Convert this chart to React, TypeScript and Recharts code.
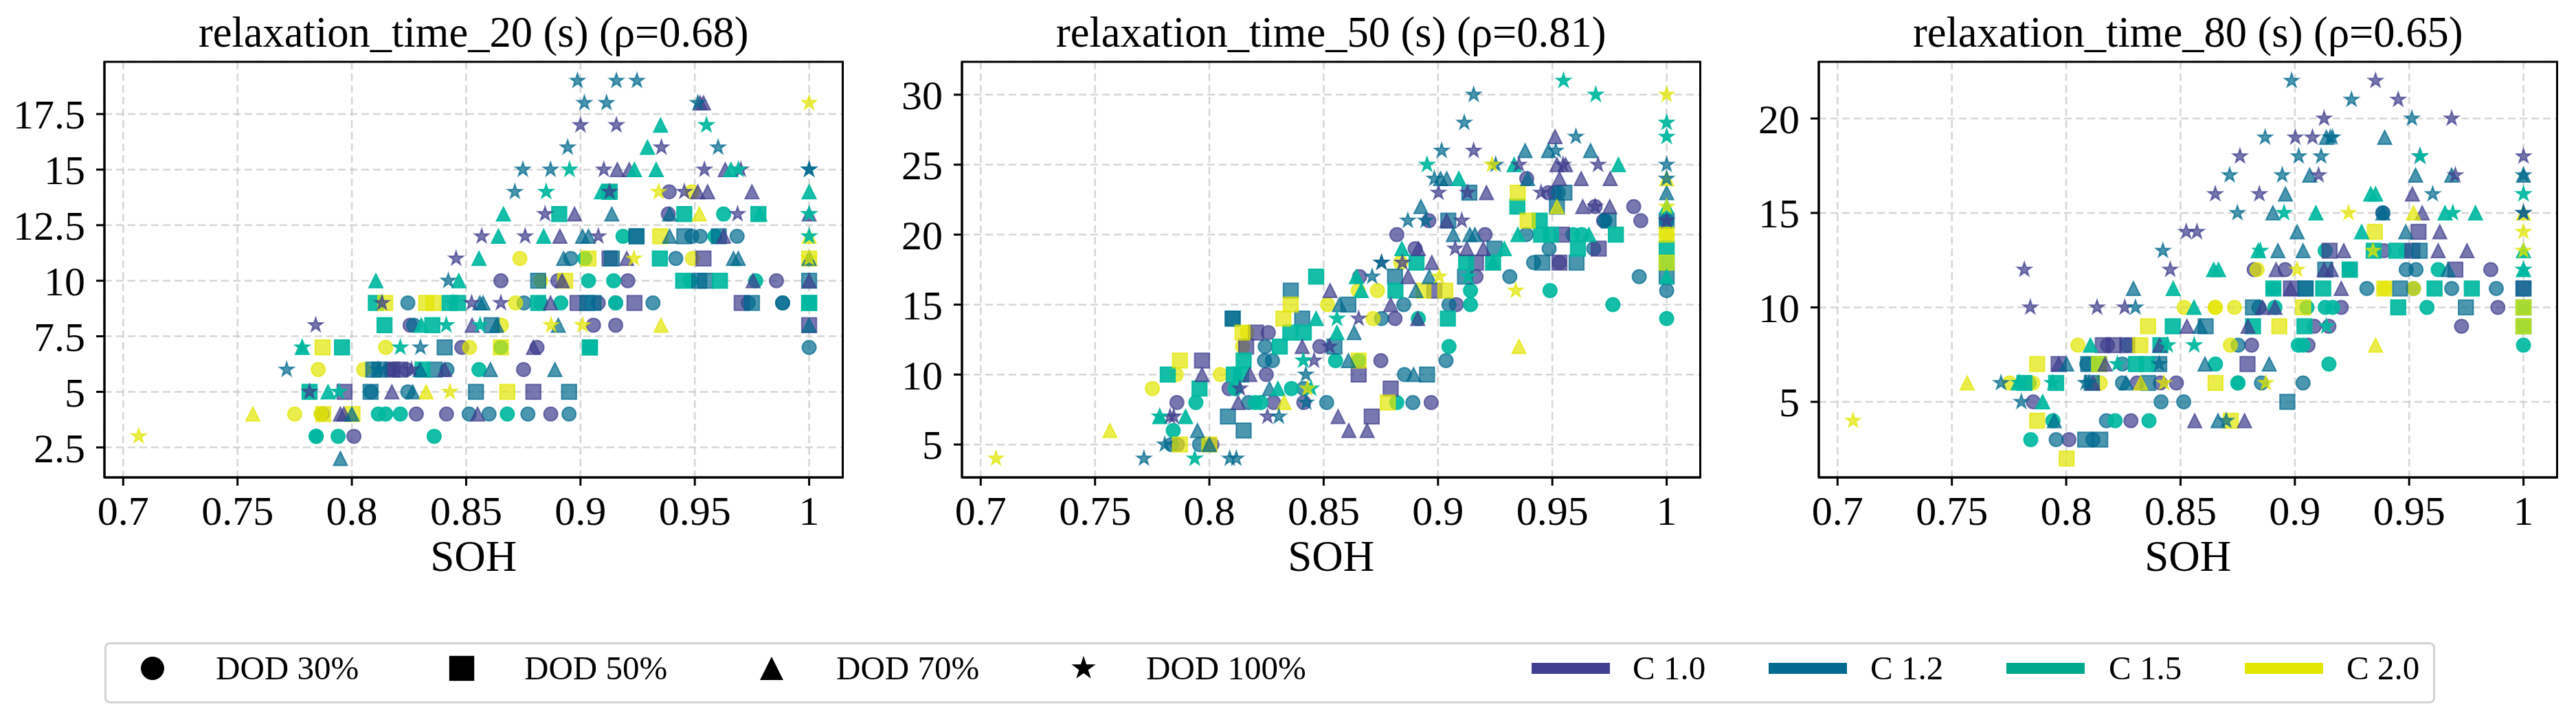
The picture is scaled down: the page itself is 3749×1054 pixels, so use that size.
import React from "react";
import {
  ScatterChart,
  Scatter,
  XAxis,
  YAxis,
  CartesianGrid,
  ReferenceArea,
} from "recharts";

type Pt = [number, number];

// values: [SOH, relaxation time]
// relaxation_time_20
const t20_d30_c10: Pt[] = [[0.8009,3],[0.787,4],[0.8282,4],[0.8414,4],[0.8164,6],[0.8178,6],[0.8239,6],[0.8481,7],[0.8255,8],[0.9388,14],[0.9384,13],[0.8652,10],[0.8901,10],[0.9207,10],[0.9857,10],[0.9078,9],[0.9154,9],[0.9057,8],[0.9154,8],[0.881,7],[0.8751,6],[0.887,4]];
const t20_d30_c12: Pt[] = [[0.8513,4],[0.8416,6],[0.8271,8],[0.8245,9],[0.8245,5],[0.8083,5],[0.8958,11],[0.9417,11],[0.8753,9],[0.8825,9],[0.9317,9],[0.9734,9],[0.9884,9],[0.9884,9],[0.9487,12],[0.9524,12],[0.9685,12],[1,7],[0.86,4],[0.877,4],[0.895,4]];
const t20_d30_c15: Pt[] = [[0.7844,3],[0.7844,3],[0.794,3],[0.836,3],[0.8116,4],[0.8148,4],[0.8212,4],[0.8556,6],[0.9035,10],[0.9145,10],[0.9481,10],[0.9766,10],[0.8914,9],[0.9154,9],[0.9019,11],[0.9186,12],[0.9588,12],[0.9626,13],[0.8652,7],[0.9041,7],[0.868,4]];
const t20_d30_c20: Pt[] = [[0.775,4],[0.7865,4],[0.7853,6],[0.8052,6],[0.8148,7],[0.8515,7],[0.8735,11],[0.949,11],[0.8826,10],[0.8716,9],[0.8654,8],[0.9487,14]];
const t20_d50_c10: Pt[] = [[0.7968,5],[0.8178,6],[0.8212,6],[0.9127,11],[0.9538,11],[0.8987,9],[0.9236,9],[0.9705,9],[0.8794,5],[1,8]];
const t20_d50_c12: Pt[] = [[0.8082,5],[0.8543,5],[0.8094,6],[0.812,6],[0.8363,6],[0.8406,7],[0.9127,14],[0.9245,12],[0.9245,12],[0.9454,12],[0.9605,12],[0.9137,11],[0.8815,10],[0.9519,10],[0.9546,10],[1,10],[0.903,9],[0.9057,9],[0.975,9],[0.8611,8],[0.895,5]];
const t20_d50_c15: Pt[] = [[0.7815,5],[0.8309,6],[0.7957,7],[0.8143,8],[0.8352,8],[0.8105,9],[0.8427,9],[0.8464,9],[0.9127,14],[0.8907,13],[0.9454,13],[0.9778,13],[0.9347,11],[0.9449,10],[0.961,10],[0.8815,9],[1,9],[1,9],[0.9041,7],[0.9041,7]];
const t20_d50_c20: Pt[] = [[0.7875,4],[0.8003,4],[0.7872,7],[0.8146,9],[0.8325,9],[0.8357,9],[0.9349,12],[0.9035,11],[1,11],[0.8933,10],[0.8652,7],[0.868,5]];
const t20_d70_c10: Pt[] = [[0.795,4],[0.7965,4],[0.855,4],[0.8175,5],[0.8406,6],[0.8526,8],[0.9523,18],[0.9538,18],[0.9161,15],[0.9213,15],[0.9633,15],[0.9513,14],[0.9556,14],[0.975,14],[0.8974,13],[0.891,12],[0.9626,12],[0.9202,11],[0.892,10],[0.9755,10],[1,10],[0.8869,9],[0.8794,7],[1,13]];
const t20_d70_c12: Pt[] = [[0.795,2],[0.8,4],[0.8266,5],[0.8298,6],[0.856,9],[0.9009,12],[0.9035,12],[0.939,12],[0.9137,13],[0.939,13],[0.8926,11],[0.9669,11],[0.969,11],[1,11],[0.8574,9],[0.8633,8],[0.8903,8],[1,8],[0.8606,6],[0.8888,6]];
const t20_d70_c15: Pt[] = [[0.8304,8],[0.8105,10],[0.8468,10],[0.7783,7],[0.7896,5],[0.8556,11],[0.935,17],[0.9293,16],[0.9236,15],[0.9331,15],[0.9658,15],[0.9092,14],[1,14],[0.8663,13],[0.9784,13],[0.8641,12],[0.8839,12]];
const t20_d70_c20: Pt[] = [[0.7567,4],[0.8325,5],[0.952,13],[0.9352,8],[1,12]];
const t20_d100_c10: Pt[] = [[0.7815,5],[0.8261,6],[0.7842,8],[0.8132,9],[0.8524,9],[0.8456,11],[0.8568,12],[0.9,17],[0.9157,17],[0.9354,16],[0.9102,15],[0.9542,15],[0.9701,15],[0.9127,14],[0.9454,14],[0.8845,13],[0.9687,13],[0.8758,12],[0.9078,12],[0.8652,9]];
const t20_d100_c12: Pt[] = [[0.7715,6],[0.8116,6],[0.83,7],[0.8422,10],[0.8987,19],[0.9157,19],[0.9247,19],[0.9017,18],[0.9114,18],[0.9513,18],[0.8944,16],[0.9602,16],[0.8748,15],[0.8869,15],[1,15],[1,15],[0.8713,14]];
const t20_d100_c15: Pt[] = [[0.7783,7],[0.8212,7],[0.8413,8],[0.8561,8],[0.8443,9],[0.7944,5],[0.9551,17],[0.8952,15],[0.969,15],[0.885,14],[1,13],[1,12]];
const t20_d100_c20: Pt[] = [[0.7068,3],[0.8429,5],[1,18],[0.9342,14],[0.9234,11],[1,11],[0.8872,8],[0.9009,8]];

// relaxation_time_50
const t50_d30_c10: Pt[] = [[0.786,5],[0.8011,5],[0.7858,8],[0.8281,8],[0.8413,8],[0.8086,9],[0.8249,10],[0.8483,12],[0.8258,13],[0.9388,24],[0.9483,23],[0.951,23],[0.9687,22],[0.9856,22],[0.896,21],[0.9724,21],[0.9887,21],[0.882,20],[0.9206,20],[0.89,19],[0.9531,18],[0.8657,17],[0.9166,17],[0.908,15],[0.8812,14],[0.875,11],[0.897,8]];
const t50_d30_c12: Pt[] = [[0.7834,5],[0.7957,5],[0.8172,8],[0.8513,8],[0.8413,9],[0.8241,11],[0.8276,11],[0.8244,12],[0.9526,23],[0.973,21],[1,21],[0.9386,20],[0.9486,19],[0.9681,19],[0.9418,18],[0.9314,17],[0.988,17],[1,16],[0.885,15],[0.9048,15],[0.8753,14],[0.9035,11],[0.8853,10],[0.889,8]];
const t50_d30_c15: Pt[] = [[0.7842,6],[0.7941,8],[0.8201,8],[0.8225,8],[0.8113,9],[0.8359,9],[0.8552,11],[0.959,20],[0.9628,20],[0.9142,16],[0.949,16],[0.9142,15],[0.9765,15],[0.8914,14],[1,14],[0.9048,12],[0.8653,11],[0.882,8]];
const t50_d30_c20: Pt[] = [[0.7751,9],[0.7855,10],[0.8048,10],[0.8145,12],[0.8165,13],[0.8517,15],[1,20],[0.8837,18],[0.8651,16],[0.8735,16],[0.8716,14]];
const t50_d50_c10: Pt[] = [[0.7968,11],[0.8161,12],[0.8204,13],[0.9542,20],[0.9703,19],[0.9166,18],[0.9531,18],[0.8984,16],[0.8653,10],[0.8793,9],[0.871,7]];
const t50_d50_c12: Pt[] = [[0.815,6],[0.8081,7],[0.8547,12],[0.8102,14],[0.8102,14],[0.8406,14],[0.8356,16],[0.9137,23],[0.9553,23],[0.952,22],[0.9045,21],[0.9746,21],[1,21],[0.9247,19],[0.9456,18],[0.9606,18],[0.8812,17],[0.9118,17],[1,17],[0.8608,15],[0.8952,10]];
const t50_d50_c15: Pt[] = [[0.7957,9],[0.7818,10],[0.8107,10],[0.8139,10],[0.815,11],[0.8308,12],[0.8354,13],[0.8413,13],[0.8467,17],[0.9347,22],[0.9445,21],[0.9451,20],[0.9494,20],[0.9778,20],[0.9612,19],[1,19],[0.8906,18],[0.9123,18],[0.9241,18],[1,18],[0.8814,16],[0.9043,14]];
const t50_d50_c20: Pt[] = [[0.7871,5],[0.8,5],[0.7871,11],[0.8145,13],[0.8324,14],[0.8356,15],[0.9349,23],[0.9392,21],[1,20],[1,18],[0.8936,16],[0.9032,16],[0.8653,11],[0.878,8]];
const t50_d70_c10: Pt[] = [[0.8563,7],[0.8126,8],[0.7968,10],[0.8177,10],[0.8406,12],[0.8528,16],[0.9512,27],[0.952,25],[0.9558,25],[0.9531,24],[0.9626,24],[0.9753,24],[0.9212,23],[0.9633,22],[0.9751,22],[0.9038,21],[0.8914,19],[0.9126,19],[0.9198,19],[0.8973,18],[0.8869,17],[0.8793,15],[0.8911,14],[0.861,6],[0.869,6]];
const t50_d70_c12: Pt[] = [[0.8,5],[0.7948,6],[0.8263,9],[0.8569,15],[0.9381,26],[0.9483,26],[0.9667,26],[0.9011,24],[0.9038,24],[0.9392,24],[1,23],[0.8925,22],[0.9067,20],[0.9139,20],[0.9161,20],[0.8962,17],[0.8903,16],[0.8633,13],[0.8608,11],[0.8893,10]];
const t50_d70_c15: Pt[] = [[0.7783,7],[0.7896,7],[0.83,9],[0.8558,13],[0.8467,14],[0.9333,25],[0.9789,25],[0.9091,24],[1,22],[0.9349,20],[0.966,20],[0.8842,19],[0.929,19],[0.9241,18],[0.8643,17],[1,17],[0.8664,16]];
const t50_d70_c20: Pt[] = [[0.7565,6],[0.8327,8],[1,24],[0.952,22],[0.9354,12]];
const t50_d100_c10: Pt[] = [[0.7828,7],[0.7844,7],[0.8254,7],[0.8134,9],[0.8458,11],[0.8526,12],[0.9156,26],[0.9354,25],[0.9547,25],[0.97,25],[0.9002,23],[0.9129,23],[0.9451,23],[0.9687,22],[0.9104,21],[1,21],[0.9075,19],[0.8753,18],[0.8844,18],[0.8653,14]];
const t50_d100_c12: Pt[] = [[0.7714,4],[0.8089,4],[0.8118,4],[0.7805,5],[0.8304,7],[0.8424,8],[0.8422,10],[0.9156,30],[0.9115,28],[0.9603,27],[0.9016,26],[0.9515,26],[0.9252,25],[1,25],[0.8984,24],[1,24],[0.8868,21],[0.8946,21],[0.8753,18],[0.8712,17]];
const t50_d100_c15: Pt[] = [[0.7936,4],[0.7783,7],[0.8445,9],[0.8411,11],[0.8558,14],[0.9549,31],[0.969,30],[1,28],[1,27],[0.8952,25],[0.9132,17]];
const t50_d100_c20: Pt[] = [[0.7067,4],[0.8429,9],[1,30],[0.9236,25],[1,22],[0.9005,17],[0.934,16]];

// relaxation_time_80
const t80_d30_c10: Pt[] = [[0.8012,3],[0.8283,4],[0.7856,5],[0.831,6],[0.8412,6],[0.8482,6],[0.8181,8],[0.9385,15],[0.9391,13],[0.8822,12],[0.8958,12],[0.9857,12],[0.9203,10],[0.9888,10],[0.9085,9],[0.9149,9],[0.9729,9],[0.8811,8],[0.9058,8]];
const t80_d30_c12: Pt[] = [[0.7956,3],[0.8117,3],[0.8176,4],[0.8415,5],[0.8514,5],[0.8246,6],[0.809,7],[0.8246,7],[0.8267,8],[0.9385,15],[0.9487,12],[0.953,12],[0.9315,11],[0.9519,11],[0.9686,11],[0.9881,11],[0.8843,10],[0.8752,8],[0.8854,6],[0.9036,6]];
const t80_d30_c15: Pt[] = [[0.7845,3],[0.7942,4],[0.8214,4],[0.8362,4],[0.7838,6],[0.9133,13],[0.9487,13],[0.9627,12],[0.8906,11],[0.8913,10],[0.9053,10],[0.9133,10],[0.9165,10],[0.9578,10],[0.9015,8],[0.9036,8],[1,8],[0.8653,7],[0.9149,7],[0.8751,6],[0.8751,6]];
const t80_d30_c20: Pt[] = [[0.7752,6],[0.7854,6],[0.8149,6],[0.8051,8],[0.8516,10],[0.8835,12],[0.9391,11],[0.9519,11],[0.8652,10],[0.8652,10],[0.8736,10],[0.8718,8]];
const t80_d50_c10: Pt[] = [[0.7967,7],[0.816,8],[0.8208,8],[0.8267,8],[0.9541,14],[0.9152,13],[0.9514,13],[0.9702,12],[0.8983,11],[0.8793,7],[1,11]];
const t80_d50_c12: Pt[] = [[0.8083,3],[0.8149,3],[0.8112,6],[0.8358,6],[0.8096,7],[0.8407,7],[0.9546,13],[0.9133,12],[0.924,12],[0.9047,11],[0.9047,11],[0.946,11],[1,11],[0.8817,10],[0.9748,10],[0.861,9],[0.8967,5]];
const t80_d50_c15: Pt[] = [[0.7817,6],[0.7956,6],[0.8144,7],[0.8305,7],[0.8353,7],[0.8412,8],[0.8466,9],[0.9345,13],[0.9444,13],[0.924,12],[0.8906,11],[0.9124,11],[0.9611,11],[0.9774,11],[0.9452,10],[1,10],[0.8817,9],[0.9042,9],[1,9]];
const t80_d50_c20: Pt[] = [[0.8002,2],[0.7873,4],[0.7873,7],[0.8144,7],[0.8324,8],[0.8358,9],[0.935,14],[0.9391,11],[0.9036,10],[1,10],[0.8932,9],[1,9],[0.8653,6],[0.872,4]];
const t80_d70_c10: Pt[] = [[0.8562,4],[0.8117,6],[0.7967,7],[0.817,7],[0.8409,8],[0.8528,9],[0.9514,16],[0.9557,15],[0.9634,14],[0.9214,13],[0.9627,13],[0.9753,13],[0.8918,12],[0.9128,12],[0.916,12],[0.8981,11],[0.9203,11],[0.8859,10],[0.8913,10],[0.8795,9],[0.878,4]];
const t80_d70_c12: Pt[] = [[0.7948,4],[0.8262,6],[0.8002,7],[0.8294,11],[0.9138,19],[0.9393,19],[0.9065,17],[0.9528,17],[0.9686,17],[1,17],[0.8959,16],[0.8904,15],[0.9385,15],[0.901,14],[0.9485,14],[0.8926,13],[0.9036,13],[0.967,12],[0.8586,9],[0.8607,7],[0.8888,7],[0.8664,4]];
const t80_d70_c15: Pt[] = [[0.7897,5],[0.779,6],[0.8106,8],[0.8468,11],[0.9332,16],[0.9353,16],[0.9092,15],[0.9657,15],[0.979,15],[0.9292,14],[0.884,13],[1,13],[0.8645,12],[0.8666,12],[0.924,12],[1,12],[0.8559,10]];
const t80_d70_c20: Pt[] = [[0.7567,6],[0.8326,6],[0.9519,15],[1,15],[0.9353,8]];
const t80_d100_c10: Pt[] = [[0.7843,10],[0.8135,10],[0.8256,10],[0.7817,12],[0.8455,12],[0.8525,14],[0.9353,22],[0.9452,21],[0.9128,20],[0.9686,20],[0.9002,19],[0.9077,19],[0.876,18],[0.9546,18],[1,18],[0.9104,17],[0.9702,17],[0.8652,16],[0.8845,16],[1,15],[0.8572,14]];
const t80_d100_c12: Pt[] = [[0.7804,5],[0.7715,6],[0.8085,6],[0.81,6],[0.8407,7],[0.8303,10],[0.8423,13],[0.8986,22],[0.9248,21],[0.9512,20],[0.887,19],[0.9155,19],[0.9165,19],[0.9017,18],[0.9115,18],[0.8715,17],[0.8945,17],[1,17],[0.9603,16],[0.8749,15],[1,15],[0.87,4]];
const t80_d100_c15: Pt[] = [[0.7795,6],[0.794,6],[0.8224,7],[0.8444,8],[0.856,8],[0.9549,18],[1,16],[0.8953,15],[0.9691,15],[0.8849,13],[1,12],[0.9138,9]];
const t80_d100_c20: Pt[] = [[0.7068,4],[0.8428,6],[0.9235,15],[1,14],[0.9342,13],[1,13],[0.901,12],[0.8873,6]];

const xTicks = [0.7, 0.75, 0.8, 0.85, 0.9, 0.95, 1];
const yTicks20 = [2.5, 5, 7.5, 10, 12.5, 15, 17.5];
const yTicks50 = [5, 10, 15, 20, 25, 30];
const yTicks80 = [5, 10, 15, 20];
const xDomain: [number, number] = [0.6918, 1.0147];

const dodLabels = ["DOD 30%", "DOD 50%", "DOD 70%", "DOD 100%"];
const cLabels = ["C 1.0", "C 1.2", "C 1.5", "C 2.0"];

const shapes = ["circle", "square", "triangle", "star"];
const colors = ["#3f3f8f", "#006a8e", "#00b89f", "#e2e600"];
const fillOpacity = [0.7, 0.7, 0.92, 0.7];
const legendColors = ["#3f3f8f", "#00698f", "#00a88e", "#e2e600"];

const panels = [
  {
    title: "relaxation_time_20 (s) (ρ=0.68)",
    left: 152,
    yDomain: [1.15, 19.85],
    yTicks: yTicks20,
    series: [
      [t20_d30_c10, t20_d30_c12, t20_d30_c15, t20_d30_c20],
      [t20_d50_c10, t20_d50_c12, t20_d50_c15, t20_d50_c20],
      [t20_d70_c10, t20_d70_c12, t20_d70_c15, t20_d70_c20],
      [t20_d100_c10, t20_d100_c12, t20_d100_c15, t20_d100_c20],
    ],
  },
  {
    title: "relaxation_time_50 (s) (ρ=0.81)",
    left: 1399.5,
    yDomain: [2.65, 32.35],
    yTicks: yTicks50,
    series: [
      [t50_d30_c10, t50_d30_c12, t50_d30_c15, t50_d30_c20],
      [t50_d50_c10, t50_d50_c12, t50_d50_c15, t50_d50_c20],
      [t50_d70_c10, t50_d70_c12, t50_d70_c15, t50_d70_c20],
      [t50_d100_c10, t50_d100_c12, t50_d100_c15, t50_d100_c20],
    ],
  },
  {
    title: "relaxation_time_80 (s) (ρ=0.65)",
    left: 2647,
    yDomain: [1, 23],
    yTicks: yTicks80,
    series: [
      [t80_d30_c10, t80_d30_c12, t80_d30_c15, t80_d30_c20],
      [t80_d50_c10, t80_d50_c12, t80_d50_c15, t80_d50_c20],
      [t80_d70_c10, t80_d70_c12, t80_d70_c15, t80_d70_c20],
      [t80_d100_c10, t80_d100_c12, t80_d100_c15, t80_d100_c20],
    ],
  },
];

const serif = "'Liberation Serif', serif";
const plotWidth = 1074.5;
const plotHeight = 605;
const yAxisWidth = 148;

const starPoints = (cx: number, cy: number, r: number) => {
  const pts: string[] = [];
  for (let i = 0; i < 10; i++) {
    const rad = i % 2 === 0 ? r : r * 0.382;
    const a = (Math.PI / 5) * i - Math.PI / 2;
    pts.push(`${cx + rad * Math.cos(a)},${cy + rad * Math.sin(a)}`);
  }
  return pts.join(" ");
};

const Marker = ({ kind, cx, cy, r, ...paint }: any) => {
  if (kind === "circle") return <circle cx={cx} cy={cy} r={r} {...paint} />;
  if (kind === "square")
    return <rect x={cx - r * 1.07} y={cy - r * 1.07} width={r * 2.14} height={r * 2.14} {...paint} />;
  if (kind === "triangle")
    return <polygon points={`${cx},${cy - r} ${cx - r},${cy + r} ${cx + r},${cy + r}`} {...paint} />;
  return <polygon points={starPoints(cx, cy, r * 1.08)} {...paint} />;
};

const Panel = ({ panel }: { panel: (typeof panels)[number] }) => (
  <div style={{ position: "absolute", left: panel.left - yAxisWidth, top: 0 }}>
    <ScatterChart
      width={yAxisWidth + plotWidth + 10}
      height={90 + plotHeight + 130 + 30}
      margin={{ top: 90, right: 10, bottom: 30, left: 0 }}
    >
      <text
        x={yAxisWidth + plotWidth / 2}
        y={68}
        textAnchor="middle"
        fontFamily={serif}
        fontSize={62.5}
        fill="#000"
      >
        {panel.title}
      </text>
      <XAxis
        type="number"
        dataKey="soh"
        domain={xDomain}
        ticks={xTicks}
        interval={0}
        height={130}
        tickSize={12}
        tickMargin={14}
        tick={{ fontFamily: serif, fontSize: 60, fill: "#000" }}
        tickLine={{ stroke: "#000", strokeWidth: 3 }}
        axisLine={{ stroke: "#000", strokeWidth: 3 }}
        label={{
          value: "SOH",
          position: "insideBottom",
          offset: -6,
          style: { fontFamily: serif, fontSize: 63, fill: "#000" },
        }}
      />
      <YAxis
        type="number"
        dataKey="t"
        domain={panel.yDomain}
        ticks={panel.yTicks}
        interval={0}
        width={yAxisWidth}
        tickSize={12}
        tickMargin={16}
        tick={{ fontFamily: serif, fontSize: 60, fill: "#000" }}
        tickLine={{ stroke: "#000", strokeWidth: 3 }}
        axisLine={{ stroke: "#000", strokeWidth: 3 }}
      />
      {panel.series.map((byC, d) =>
        byC.map((pts, c) => (
          <Scatter
            key={`${d}-${c}`}
            data={pts.map(([soh, t]) => ({ soh, t }))}
            isAnimationActive={false}
            shape={(props: any) => (
              <Marker
                kind={shapes[d]}
                cx={props.cx}
                cy={props.cy}
                r={10}
                fill={colors[c]}
                fillOpacity={fillOpacity[c]}
                stroke={colors[c]}
                strokeOpacity={fillOpacity[c]}
                strokeWidth={2}
              />
            )}
          />
        ))
      )}
      <CartesianGrid stroke="#c8c8c8" strokeOpacity={0.75} strokeWidth={2.5} strokeDasharray="11 6" />
      <ReferenceArea
        x1={xDomain[0]}
        x2={xDomain[1]}
        y1={panel.yDomain[0]}
        y2={panel.yDomain[1]}
        fill="none"
        stroke="#000"
        strokeWidth={3}
        ifOverflow="visible"
      />
    </ScatterChart>
  </div>
);

const dodLegendX = [222, 672, 1123, 1577];
const dodTextX = [314, 763, 1217, 1668];
const cLineX = [2229, 2574, 2920, 3267];
const cTextX = [2376, 2722, 3069, 3415];

const legendText: React.CSSProperties = {
  position: "absolute",
  top: 948,
  fontFamily: serif,
  fontSize: 49,
  lineHeight: "50px",
  color: "#000",
  whiteSpace: "nowrap",
};

const Legend = () => (
  <>
    <div
      style={{
        position: "absolute",
        left: 152,
        top: 935,
        width: 3386,
        height: 83,
        border: "3px solid #d2d2d2",
        borderRadius: 8,
      }}
    />
    {dodLabels.map((label, i) => (
      <React.Fragment key={label}>
        <svg style={{ position: "absolute", left: dodLegendX[i] - 22, top: 951 }} width={44} height={44}>
          <Marker kind={shapes[i]} cx={22} cy={22} r={17} fill="#000" />
        </svg>
        <div style={{ ...legendText, left: dodTextX[i] }}>{label}</div>
      </React.Fragment>
    ))}
    {cLabels.map((label, i) => (
      <React.Fragment key={label}>
        <div
          style={{
            position: "absolute",
            left: cLineX[i],
            top: 965,
            width: 114,
            height: 16,
            background: legendColors[i],
          }}
        />
        <div style={{ ...legendText, left: cTextX[i] }}>{label}</div>
      </React.Fragment>
    ))}
  </>
);

export default function App() {
  return (
    <div style={{ position: "absolute", left: 0, top: 0, width: 3749, height: 1054, background: "#fff" }}>
      {panels.map((panel) => (
        <Panel key={panel.title} panel={panel} />
      ))}
      <Legend />
    </div>
  );
}
